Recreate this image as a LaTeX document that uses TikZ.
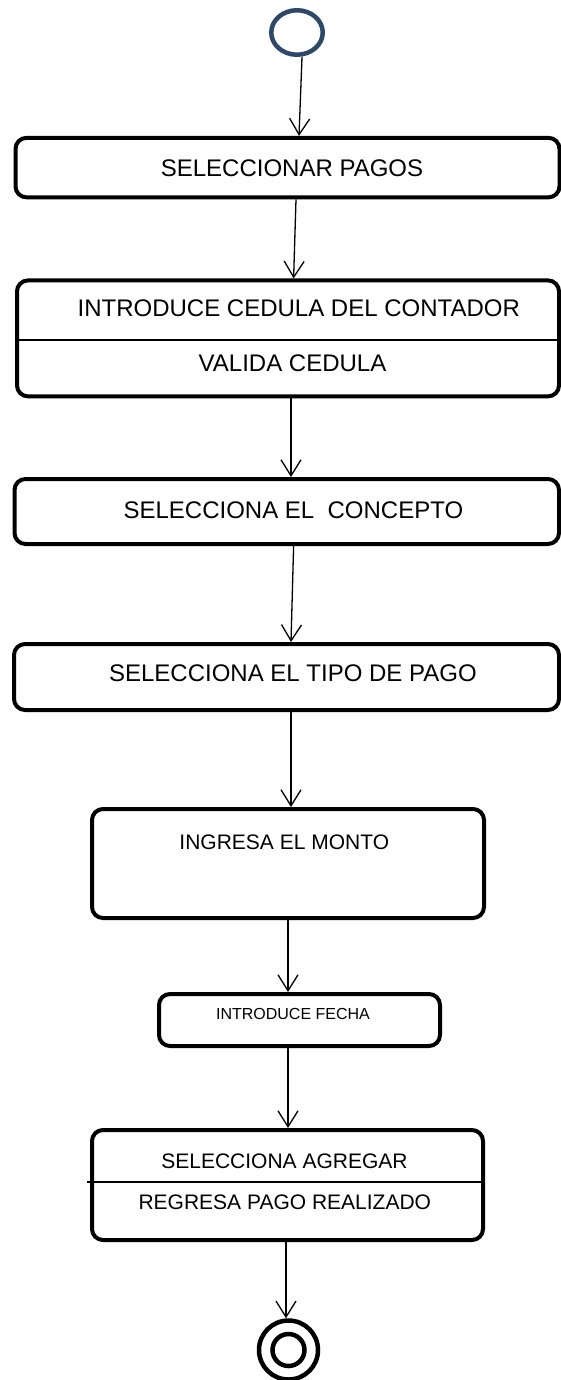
\documentclass[tikz,border=0pt]{standalone}
\usepackage{fontspec}
\setmainfont{Liberation Sans}
\usetikzlibrary{shapes.geometric,arrows.meta}
\definecolor{azulinicio}{RGB}{46,72,106}

\begin{document}
\begin{tikzpicture}[x=1pt,y=-1pt,
  actividad/.style={draw, line width=4pt, rounded corners=11pt, inner sep=0pt},
  texto/.style={inner sep=0pt, font=\fontsize{24}{28}\selectfont},
  textomed/.style={inner sep=0pt, font=\fontsize{21}{25}\selectfont},
  textochico/.style={inner sep=0pt, font=\fontsize{16}{19}\selectfont},
  final/.style={circle, draw, line width=4.5pt, inner sep=0pt},
  flujo/.style={line width=1.3pt, -{Straight Barb[length=16pt,width=20pt]}},
  division/.style={line width=1.5pt}]
\useasboundingbox (0,0) rectangle (561,1380) ;
\node[ellipse, draw=azulinicio, line width=4.5pt, minimum width=51.5pt, minimum height=44.5pt, inner sep=0pt] (inicio) at (297,32.5) {} ;
\node[actividad, minimum width=544pt, minimum height=59.5pt] (pagos) at (287.5,167.6) {} ;
\node[texto] (pagostxt) at (292,168) {SELECCIONAR PAGOS} ;
\node[actividad, minimum width=542pt, minimum height=116pt] (cedula) at (288,338.4) {} ;
\node[texto] (cedulatxt) at (298.75,308.3) {INTRODUCE CEDULA DEL CONTADOR} ;
\node[texto] (validatxt) at (292.5,363.3) {VALIDA CEDULA} ;
\draw[division] ([yshift=-1.6pt]cedula.west) -- ([yshift=-1.6pt]cedula.east) ;
\node[actividad, minimum width=544.5pt, minimum height=65pt] (concepto) at (286.75,511.5) {} ;
\node[texto] (conceptotxt) at (293.4,510) {SELECCIONA EL\ \ CONCEPTO} ;
\node[actividad, minimum width=545pt, minimum height=66pt] (tipo) at (286.5,677) {} ;
\node[texto] (tipotxt) at (292.9,673.3) {SELECCIONA EL TIPO DE PAGO} ;
\node[actividad, minimum width=392pt, minimum height=109pt] (monto) at (288,863.5) {} ;
\node[textomed] (montotxt) at (284.3,842.3) {INGRESA EL MONTO} ;
\node[actividad, minimum width=281pt, minimum height=52pt] (fecha) at (299.5,1020) {} ;
\node[textochico] (fechatxt) at (293,1014) {INTRODUCE FECHA} ;
\node[actividad, minimum width=391pt, minimum height=110pt] (agregar) at (287.5,1185) {} ;
\node[textomed] (agregartxt) at (284.5,1161) {SELECCIONA AGREGAR} ;
\node[textomed] (regresatxt) at (284.8,1202) {REGRESA PAGO REALIZADO} ;
\draw[division] ([xshift=-3pt,yshift=3pt]agregar.west) -- ([xshift=-3pt,yshift=3pt]agregar.east) ;
\node[final, minimum size=59pt] (fin) at (288.5,1350) {} ;
\node[final, minimum size=32pt] (finin) at (fin) {} ;
\draw[flujo] ([xshift=5pt]inicio.south) -- ([xshift=11.5pt]pagos.north) ;
\draw[flujo] ([xshift=8.5pt]pagos.south) -- ([xshift=5.6pt]cedula.north) ;
\draw[flujo] ([xshift=3pt]cedula.south) -- ([xshift=4.25pt]concepto.north) ;
\draw[flujo] ([xshift=6.85pt]concepto.south) -- ([xshift=4.5pt]tipo.north) ;
\draw[flujo] ([xshift=4.5pt]tipo.south) -- ([xshift=3pt]monto.north) ;
\draw[flujo] (monto.south) -- ([xshift=-11.5pt]fecha.north) ;
\draw[flujo] ([xshift=-11.5pt]fecha.south) -- ([xshift=0.5pt]agregar.north) ;
\draw[flujo] ([xshift=-1.5pt]agregar.south) -- ([xshift=-2.5pt]fin.north) ;
\end{tikzpicture}
\end{document}
